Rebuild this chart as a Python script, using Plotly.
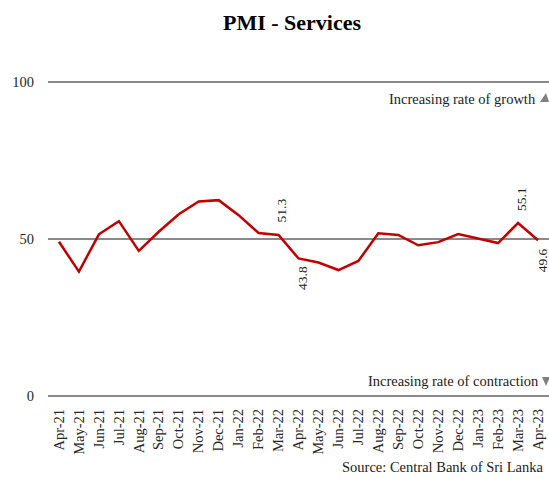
import plotly.graph_objects as go

months = ["Apr-21","May-21","Jun-21","Jul-21","Aug-21","Sep-21","Oct-21","Nov-21","Dec-21",
          "Jan-22","Feb-22","Mar-22","Apr-22","May-22","Jun-22","Jul-22","Aug-22","Sep-22",
          "Oct-22","Nov-22","Dec-22","Jan-23","Feb-23","Mar-23","Apr-23"]
pmi = [49.1, 39.6, 51.5, 55.7, 46.2, 52.3, 57.9, 62.0, 62.4,
       57.6, 51.9, 51.3, 43.8, 42.5, 40.1, 43.0, 51.8, 51.3,
       48.0, 49.0, 51.6, 50.2, 48.7, 55.1, 49.6]
labels_above = ["Mar-22", "Mar-23"]
labels_below = ["Apr-22", "Apr-23"]

FONT = "Liberation Serif"
W, H = 549, 479
L, R, T, B = 48, 0, 81, 82

fig = go.Figure()
fig.add_trace(go.Scatter(x=months, y=pmi, mode="lines",
                         line=dict(color="#C00000", width=2.5), hoverinfo="skip"))

for m in labels_above:
    v = pmi[months.index(m)]
    fig.add_annotation(x=m, y=v, text=f"{v:.1f}", textangle=-90, showarrow=False,
                       yanchor="bottom", yshift=10, xshift=3,
                       font=dict(family=FONT, size=13.5, color="#222"))
for m in labels_below:
    v = pmi[months.index(m)]
    fig.add_annotation(x=m, y=v, text=f"{v:.1f}", textangle=-90, showarrow=False,
                       yanchor="top", yshift=-6, xshift=4,
                       font=dict(family=FONT, size=13.5, color="#222"))

pw, ph = W - L - R, H - T - B
def px(x): return (x - L) / pw
def py(y): return (T + ph - y) / ph

fig.add_annotation(xref="paper", yref="paper", x=px(538), y=py(99), text="Increasing rate of growth",
                   showarrow=False, xanchor="right", yanchor="middle",
                   font=dict(family=FONT, size=14.5, color="#222"))
fig.add_annotation(xref="paper", yref="paper", x=px(541), y=py(381), text="Increasing rate of contraction",
                   showarrow=False, xanchor="right", yanchor="middle",
                   font=dict(family=FONT, size=14.5, color="#222"))
fig.add_shape(type="path", xref="paper", yref="paper",
              path=f"M {px(540)} {py(102)} L {px(549)} {py(102)} L {px(546)} {py(93)} Z",
              fillcolor="#808080", line=dict(width=0))
fig.add_shape(type="path", xref="paper", yref="paper",
              path=f"M {px(542)} {py(377)} L {px(550)} {py(377)} L {px(546)} {py(386)} Z",
              fillcolor="#808080", line=dict(width=0))

fig.add_annotation(xref="paper", yref="paper", x=px(545), y=py(467), text="Source: Central Bank of Sri Lanka",
                   showarrow=False, xanchor="right", yanchor="middle",
                   font=dict(family=FONT, size=14.5, color="#222"))

fig.update_layout(
    width=W, height=H,
    margin=dict(l=L, r=R, t=T, b=B),
    paper_bgcolor="white", plot_bgcolor="white",
    showlegend=False,
    title=dict(text="<b>PMI - Services</b>", x=292 / W, xanchor="center", y=1 - 22/H, yanchor="middle",
               font=dict(family=FONT, size=22, color="#000")),
    xaxis=dict(type="category", range=[-0.55, 24.55], showgrid=False, showline=False, zeroline=False,
               tickangle=-90, ticks="", ticklabelstandoff=8,
               tickfont=dict(family=FONT, size=14.5, color="#262626")),
    yaxis=dict(range=[-0.4, 100.4], tickvals=[0, 50, 100], showgrid=True, gridcolor="#8a8a8a", gridwidth=2,
               zeroline=False, showline=False, ticks="", ticklabelstandoff=13,
               tickfont=dict(family=FONT, size=14.5, color="#262626")),
)
fig.write_html("out.html", config={"displayModeBar": False},
               post_script="document.body.style.margin='0';")
